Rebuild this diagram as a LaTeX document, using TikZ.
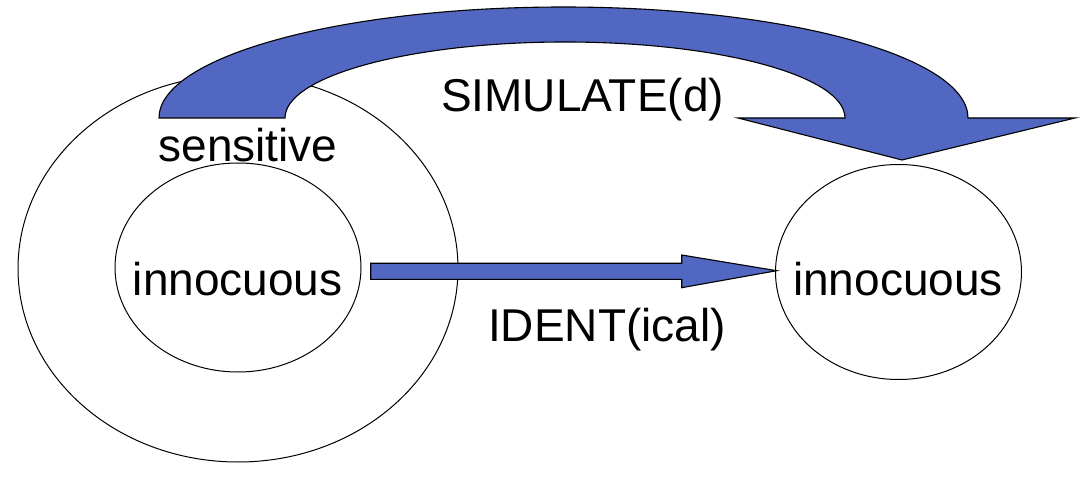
\documentclass[tikz,border=0pt]{standalone}
\usepackage{fontspec}
\setmainfont{Liberation Sans}
\usetikzlibrary{shapes.geometric}
\definecolor{arrowblue}{RGB}{81,103,193}
\begin{document}
\begin{tikzpicture}[x=1pt,y=1pt,
  ring/.style={draw=black,line width=1pt,ellipse,inner sep=0pt},
  blockarrow/.style={fill=arrowblue,draw=black,line width=1.1pt,line join=miter},
  lbl/.style={font=\fontsize{46}{50}\selectfont,inner sep=0pt,anchor=base}]
\useasboundingbox (0,0) rectangle (1082,480);
% ellipses
\node[ring,minimum width=440pt,minimum height=387pt] (outer) at (238,211.5) {};
\node[ring,minimum width=246pt,minimum height=209pt] (inner) at (238,212.5) {};
\node[ring,minimum width=246pt,minimum height=215pt] (right) at (898.5,208) {};
% straight arrow IDENT
\draw[blockarrow] (370.7,200.7) -- (681.7,200.7) -- (681.7,192.3) -- (776.7,209.3)
  -- (681.7,225) -- (681.7,216.7) -- (370.7,216.7) -- cycle;
% curved arrow SIMULATE
\draw[blockarrow] (159,362) arc[start angle=180,end angle=0,x radius=404.5,y radius=111]
  -- (1075,362) -- (902,320) -- (738,362) -- (845,362)
  arc[start angle=0,end angle=180,x radius=280,y radius=76] -- cycle;
% labels
\node[lbl] (sens) at (248,318.3) {sensitive};
\node[lbl] (innl) at (237.7,185) {innocuous};
\node[lbl] (innr) at (898,185) {innocuous};
\node[lbl] (ident) at (607,138.3) {IDENT(ical)};
\node[lbl] (sim) at (582.5,368) {SIMULATE(d)};
\end{tikzpicture}
\end{document}
